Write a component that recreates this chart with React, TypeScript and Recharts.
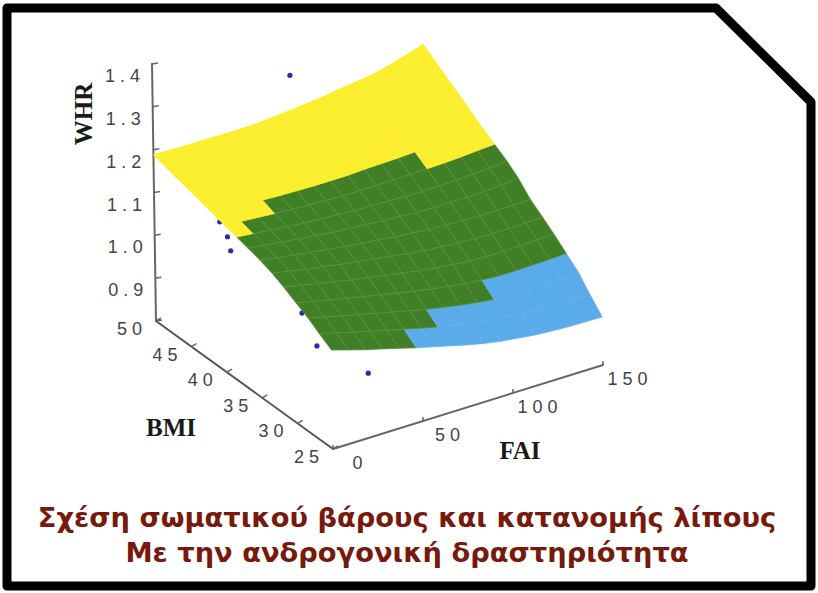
import React from 'react';
import { ScatterChart, Scatter, XAxis, YAxis } from 'recharts';

const faiValues = [0, 9.4, 18.8, 28.1, 37.5, 46.9, 56.3, 65.6, 75, 84.4, 93.8, 103.1, 112.5, 121.9, 131.3, 140.6, 150];
const bmiValues = [25, 26.7, 28.3, 30, 31.7, 33.3, 35, 36.7, 38.3, 40, 41.7, 43.3, 45, 46.7, 48.3, 50];

// WHR surface: one row per BMI value, one column per FAI value
const whrRow00 = [1.031, 1.019, 1.007, 0.997, 0.986, 0.975, 0.965, 0.955, 0.945, 0.936, 0.929, 0.924, 0.919, 0.916, 0.914, 0.913, 0.912];
const whrRow01 = [1.049, 1.039, 1.028, 1.018, 1.008, 0.998, 0.988, 0.979, 0.971, 0.963, 0.957, 0.953, 0.95, 0.948, 0.946, 0.945, 0.944];
const whrRow02 = [1.067, 1.057, 1.047, 1.038, 1.028, 1.019, 1.01, 1.001, 0.993, 0.986, 0.98, 0.975, 0.973, 0.973, 0.974, 0.975, 0.977];
const whrRow03 = [1.082, 1.073, 1.064, 1.056, 1.047, 1.039, 1.031, 1.023, 1.016, 1.01, 1.004, 1.0, 0.997, 0.997, 0.998, 0.999, 1.001];
const whrRow04 = [1.098, 1.09, 1.082, 1.074, 1.066, 1.059, 1.052, 1.045, 1.038, 1.033, 1.028, 1.024, 1.022, 1.022, 1.023, 1.024, 1.025];
const whrRow05 = [1.111, 1.104, 1.096, 1.09, 1.083, 1.077, 1.071, 1.065, 1.059, 1.054, 1.05, 1.047, 1.045, 1.044, 1.044, 1.045, 1.046];
const whrRow06 = [1.121, 1.115, 1.109, 1.103, 1.098, 1.092, 1.087, 1.083, 1.078, 1.075, 1.071, 1.069, 1.067, 1.066, 1.066, 1.066, 1.067];
const whrRow07 = [1.129, 1.124, 1.119, 1.114, 1.11, 1.105, 1.102, 1.099, 1.095, 1.093, 1.09, 1.089, 1.089, 1.089, 1.09, 1.092, 1.097];
const whrRow08 = [1.136, 1.132, 1.128, 1.124, 1.12, 1.117, 1.115, 1.113, 1.111, 1.11, 1.108, 1.108, 1.108, 1.109, 1.111, 1.114, 1.118];
const whrRow09 = [1.143, 1.14, 1.137, 1.134, 1.132, 1.129, 1.128, 1.126, 1.126, 1.126, 1.126, 1.127, 1.128, 1.129, 1.131, 1.134, 1.136];
const whrRow10 = [1.151, 1.149, 1.147, 1.145, 1.143, 1.142, 1.141, 1.141, 1.141, 1.143, 1.144, 1.145, 1.147, 1.148, 1.15, 1.152, 1.154];
const whrRow11 = [1.158, 1.156, 1.155, 1.154, 1.153, 1.152, 1.151, 1.152, 1.153, 1.154, 1.156, 1.159, 1.162, 1.164, 1.167, 1.17, 1.173];
const whrRow12 = [1.166, 1.165, 1.164, 1.162, 1.161, 1.161, 1.161, 1.162, 1.164, 1.166, 1.169, 1.173, 1.176, 1.18, 1.183, 1.188, 1.193];
const whrRow13 = [1.173, 1.172, 1.171, 1.171, 1.17, 1.17, 1.17, 1.172, 1.174, 1.177, 1.181, 1.185, 1.19, 1.195, 1.2, 1.206, 1.212];
const whrRow14 = [1.18, 1.18, 1.179, 1.179, 1.178, 1.178, 1.179, 1.18, 1.183, 1.187, 1.191, 1.195, 1.201, 1.206, 1.213, 1.222, 1.231];
const whrRow15 = [1.188, 1.187, 1.186, 1.186, 1.185, 1.185, 1.186, 1.189, 1.192, 1.196, 1.2, 1.206, 1.211, 1.216, 1.226, 1.237, 1.25];
const whrGrid = [whrRow00, whrRow01, whrRow02, whrRow03, whrRow04, whrRow05, whrRow06, whrRow07, whrRow08, whrRow09, whrRow10, whrRow11, whrRow12, whrRow13, whrRow14, whrRow15];

// For each FAI column: the first BMI row that is no longer blue, and the first that is yellow
const blueEndRow = [0, 0, 0, 0, 0, 1, 1, 2, 2, 2, 2, 3, 3, 3, 3, 3];
const yellowStartRow = [8, 9, 9, 10, 10, 10, 10, 10, 10, 10, 10, 10, 9, 9, 9, 9];

const sampleFai = [47.5, 9.8, 11.6, 12.1, 20, 21.8, 27.1];
const sampleBmi = [42.6, 43.2, 42.6, 42.3, 34.3, 32.7, 26.8];
const sampleWhr = [1.4, 1.1, 1.07, 1.04, 0.98, 0.92, 0.92];

const whrTicks = [0.8, 0.9, 1.0, 1.1, 1.2, 1.3, 1.4];
const bmiTicks = [25, 30, 35, 40, 45, 50];
const faiTicks = [0, 50, 100, 150];

const titleLine1 = 'Σχέση σωματικού βάρους και κατανομής λίπους';
const titleLine2 = 'Με την ανδρογονική δραστηριότητα';

// View of the 3D box on the page
const project = (fai: number, bmi: number, whr: number) => {
  const u = fai / 150;
  const v = (bmi - 25) / 25;
  const w = (whr - 0.8) / 0.6;
  return { x: 333 + 270 * u - 177 * v - 4 * w, y: 449 - 84 * u - 128 * v - 257 * w };
};

const YELLOW = '#fbee2e';
const GREEN = '#417f27';
const BLUE = '#5aabe9';
const GREEN_LINE = '#578f3e';
const BLUE_LINE = '#66b0ec';

const NoDot = () => null;

const polygon = (fill: string, stroke: string) => (p: any) => {
  const d = p.points.map((q: any, i: number) => `${i ? 'L' : 'M'}${q.x},${q.y}`).join('') + 'Z';
  return <path d={d} fill={fill} stroke={stroke} strokeWidth={0.8} strokeLinejoin="round" />;
};

const segment = (stroke: string, width: number) => (p: any) => {
  const d = p.points.map((q: any, i: number) => `${i ? 'L' : 'M'}${q.x},${q.y}`).join('');
  return <path d={d} fill="none" stroke={stroke} strokeWidth={width} strokeLinecap="round" />;
};

const cells: any[] = [];
for (let r = 0; r < bmiValues.length - 1; r++) {
  for (let c = 0; c < faiValues.length - 1; c++) {
    const zone = r < blueEndRow[c] ? 'blue' : r >= yellowStartRow[c] ? 'yellow' : 'green';
    cells.push({
      key: `${r}-${c}`,
      zone,
      points: [
        project(faiValues[c], bmiValues[r], whrGrid[r][c]),
        project(faiValues[c + 1], bmiValues[r], whrGrid[r][c + 1]),
        project(faiValues[c + 1], bmiValues[r + 1], whrGrid[r + 1][c + 1]),
        project(faiValues[c], bmiValues[r + 1], whrGrid[r + 1][c]),
      ],
    });
  }
}
const zoneFill: any = { blue: BLUE, green: GREEN, yellow: YELLOW };
const zoneLine: any = { blue: BLUE_LINE, green: GREEN_LINE, yellow: YELLOW };

const samples = sampleFai.map((f, i) => project(f, sampleBmi[i], sampleWhr[i]));

const whrAxis = [project(0, 50, 0.8), project(0, 50, 1.4)];
const bmiAxis = [project(0, 25, 0.8), project(0, 50, 0.8)];
const faiAxis = [project(0, 25, 0.8), project(150, 25, 0.8)];

const whrTickPts = whrTicks.map((t) => ({ ...project(0, 50, t), label: t === 0.8 ? '' : t.toFixed(1) }));
const bmiTickPts = bmiTicks.map((t) => ({ ...project(0, t, 0.8), label: String(t) }));
const faiTickPts = faiTicks.map((t) => ({ ...project(t, 25, 0.8), label: String(t) }));
const axisTitles = [
  { ...project(0, 50, 1.4), label: 'WHR', dx: -69, dy: 50, rotate: -90 },
  { ...project(0, 25, 0.8), label: 'BMI', dx: -162, dy: -22, rotate: 0 },
  { ...project(0, 25, 0.8), label: 'FAI', dx: 187, dy: 1, rotate: 0 },
];

const tickShape = (ldx: number, ldy: number, mdx: number, mdy: number) => (p: any) => (
  <g>
    <line x1={p.cx} y1={p.cy} x2={p.cx + mdx} y2={p.cy + mdy} stroke="#666" strokeWidth={1.5} />
    {p.payload.label ? (
      <text
        x={p.cx + ldx}
        y={p.cy + ldy}
        textAnchor="middle"
        dominantBaseline="central"
        fontFamily="'Liberation Sans', sans-serif"
        fontSize={18}
        letterSpacing={5}
        fill="#444"
      >
        {p.payload.label}
      </text>
    ) : null}
  </g>
);

const titleShape = (p: any) => {
  const { label, dx, dy, rotate } = p.payload;
  const x = p.cx + dx;
  const y = p.cy + dy;
  return (
    <text
      x={x}
      y={y}
      transform={rotate ? `rotate(${rotate} ${x} ${y})` : undefined}
      textAnchor="middle"
      dominantBaseline="central"
      fontFamily="'Liberation Serif', serif"
      fontWeight="bold"
      fontSize={25}
      fill="#1a1a1a"
    >
      {label}
    </text>
  );
};

const sampleDot = (p: any) => <circle cx={p.cx} cy={p.cy} r={2.6} fill="#2a2ab0" />;

export default function App() {
  return (
    <div style={{ position: 'absolute', left: 0, top: 0, width: 818, height: 593, background: '#fff', overflow: 'hidden' }}>
      <svg width={818} height={593} style={{ position: 'absolute', left: 0, top: 0 }}>
        <path d="M7,8 L716,8 L811,102 L811,586 L7,586 Z" fill="#fff" stroke="#000" strokeWidth={9} strokeLinejoin="round" />
      </svg>
      <div style={{ position: 'absolute', left: 0, top: 0 }}>
        <ScatterChart width={818} height={593} margin={{ top: 0, right: 0, bottom: 0, left: 0 }}>
          <XAxis type="number" dataKey="x" domain={[0, 818]} hide />
          <YAxis type="number" dataKey="y" domain={[0, 593]} reversed hide />
          <Scatter data={whrAxis} isAnimationActive={false} shape={NoDot} line={segment('#666', 2)} />
          <Scatter data={bmiAxis} isAnimationActive={false} shape={NoDot} line={segment('#555', 2)} />
          <Scatter data={faiAxis} isAnimationActive={false} shape={NoDot} line={segment('#666', 2)} />
          <Scatter data={whrTickPts} isAnimationActive={false} shape={tickShape(-27, 12, 6, -1)} />
          <Scatter data={bmiTickPts} isAnimationActive={false} shape={tickShape(-24, 8, 5, -3)} />
          <Scatter data={faiTickPts} isAnimationActive={false} shape={tickShape(27, 14, 0, -4)} />
          <Scatter data={axisTitles} isAnimationActive={false} shape={titleShape} />
          <Scatter data={samples} isAnimationActive={false} shape={sampleDot} />
          {cells.map((cell) => (
            <Scatter
              key={cell.key}
              data={cell.points}
              isAnimationActive={false}
              shape={NoDot}
              line={polygon(zoneFill[cell.zone], zoneLine[cell.zone])}
            />
          ))}
        </ScatterChart>
      </div>
      <div
        style={{
          position: 'absolute',
          left: 0,
          top: 500,
          width: 814,
          textAlign: 'center',
          fontFamily: "'DejaVu Sans', sans-serif",
          fontWeight: 'bold',
          fontSize: 27.3,
          lineHeight: '35px',
          color: '#771a0c',
        }}
      >
        <div>{titleLine1}</div>
        <div>{titleLine2}</div>
      </div>
    </div>
  );
}
